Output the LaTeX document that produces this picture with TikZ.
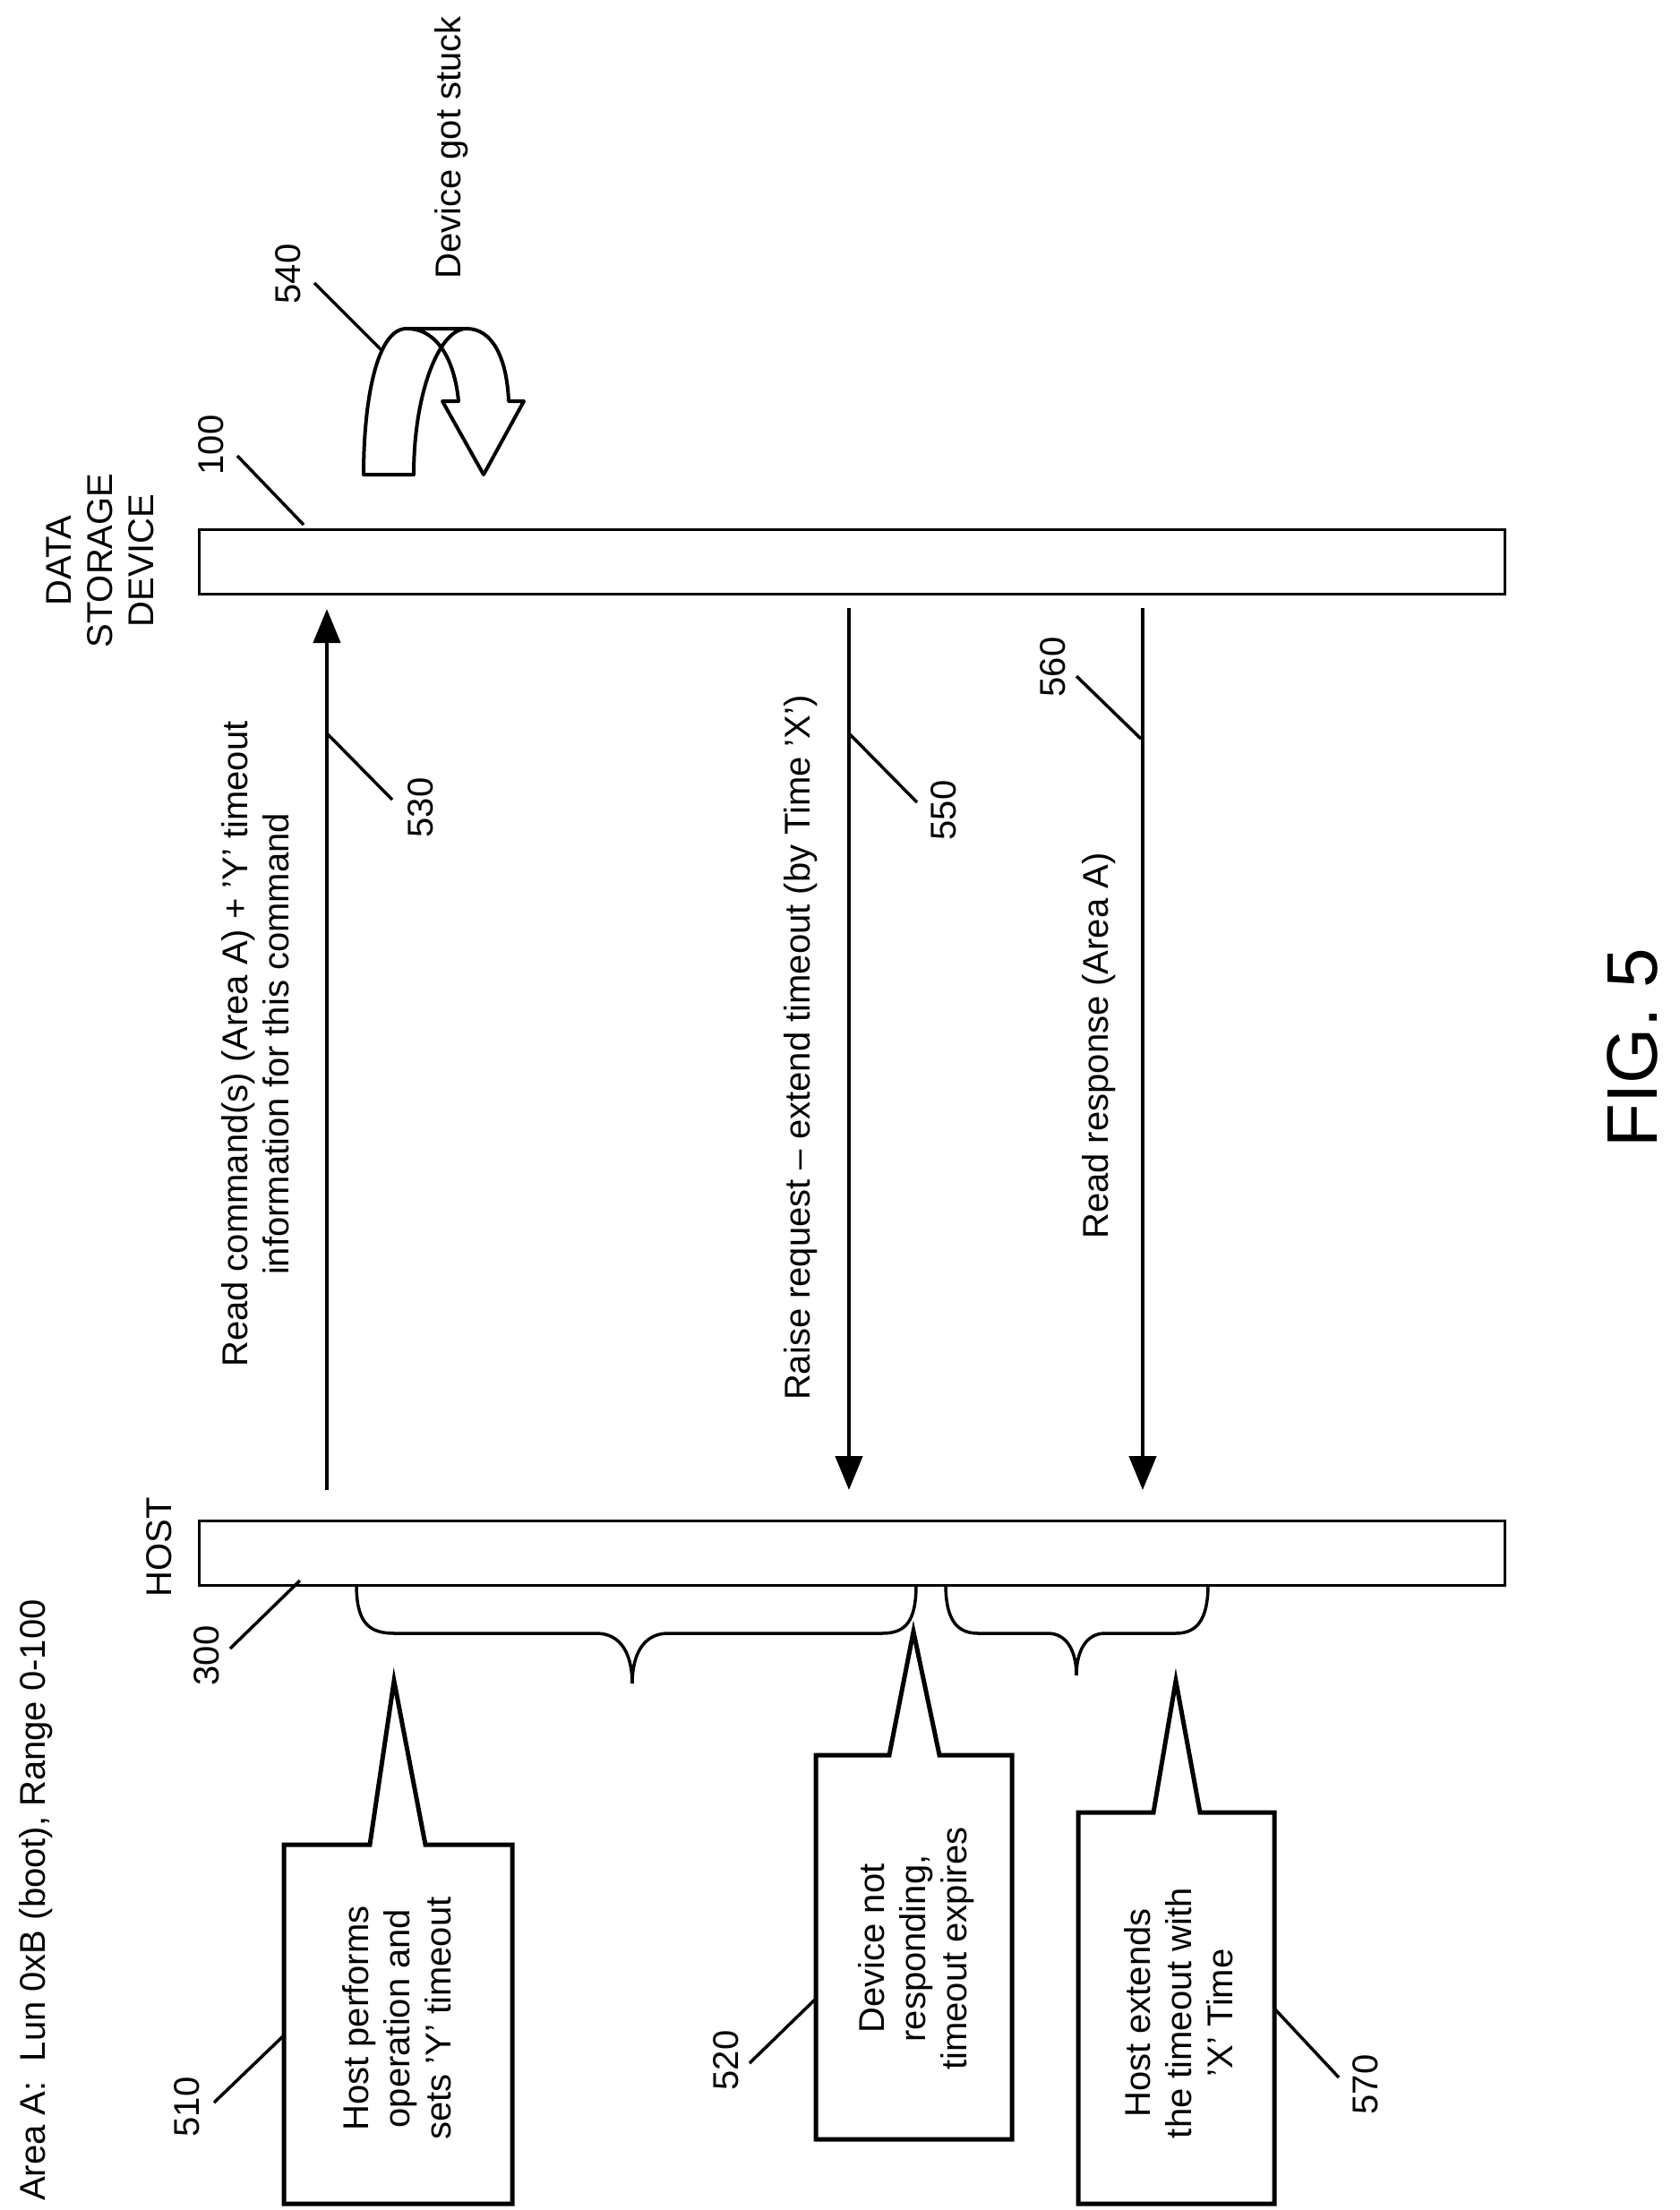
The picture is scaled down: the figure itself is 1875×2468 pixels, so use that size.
\documentclass[tikz,border=0pt]{standalone}
\usepackage{fontspec}
\setmainfont{Liberation Sans}
\usetikzlibrary{arrows.meta}
\begin{document}
\begin{tikzpicture}[x=1pt,y=-1pt,
  lbl/.style={rotate=90,font=\fontsize{40}{46}\selectfont,inner sep=0pt},
  boxtxt/.style={rotate=90,font=\fontsize{40}{46}\selectfont,align=center,inner sep=0pt},
  bar/.style={draw,line width=3pt,fill=white},
  msg/.style={line width=4.5pt,-{Triangle[length=38pt,width=30pt]}},
  lead/.style={line width=3.5pt},
  call/.style={draw,line width=5pt,fill=white,line join=miter}]
\useasboundingbox (0,0) rectangle (1875,2468);
% bars
\node[bar,minimum width=1458pt,minimum height=72pt,inner sep=0pt,anchor=north west] (dev) at (221,590) {};
\node[bar,minimum width=1458pt,minimum height=72pt,inner sep=0pt,anchor=north west] (host) at (221,1697) {};
\node[lbl,align=center] (devlbl) at (112,626) {DATA\\STORAGE\\DEVICE};
\node[lbl] (hostlbl) at (178,1728) {HOST};
% message arrows
\coordinate (a1s) at (365,1664); \coordinate (a1e) at (365,680);
\coordinate (a2s) at (948,679);  \coordinate (a2e) at (948,1664);
\coordinate (a3s) at (1276,679); \coordinate (a3e) at (1276,1664);
\draw[msg] (a1s) -- (a1e);
\draw[msg] (a2s) -- (a2e);
\draw[msg] (a3s) -- (a3e);
\node[lbl,align=center] (t530) at (285,1166) {Read command(s) (Area A) + ’Y’ timeout\\information for this command};
\node[lbl] (t550) at (894,1170) {Raise request – extend timeout (by Time ’X’)};
\node[lbl] (t560) at (1227,1168) {Read response (Area A)};
% leaders
\coordinate (l530a) at (365,819); \coordinate (l530b) at (438,893);
\draw[lead] (l530a) -- (l530b);
\node[lbl] (n530) at (470,902) {530};
\coordinate (l550a) at (948,819); \coordinate (l550b) at (1024,896);
\draw[lead] (l550a) -- (l550b);
\node[lbl] (n550) at (1054,905) {550};
\coordinate (l560a) at (1274,825); \coordinate (l560b) at (1202,755);
\draw[lead] (l560a) -- (l560b);
\node[lbl] (n560) at (1176,745) {560};
\coordinate (l100a) at (339,586); \coordinate (l100b) at (265,509);
\draw[lead] (l100a) -- (l100b);
\node[lbl] (n100) at (236,497) {100};
\coordinate (l540a) at (428,393); \coordinate (l540b) at (351,316);
\draw[lead] (l540a) -- (l540b);
\node[lbl] (n540) at (322,306) {540};
\coordinate (l300a) at (335,1765); \coordinate (l300b) at (257,1841);
\draw[lead] (l300a) -- (l300b);
\node[lbl] (n300) at (231,1849) {300};
% U-turn arrow
\draw[line width=4pt,fill=white,line join=round]
  (406,530) .. controls (406,450) and (420,367) .. (454,367) -- (521,367)
  .. controls (550,367) and (566,400) .. (568,448) -- (585,448) -- (540,530) -- (494,448) -- (512,448)
  .. controls (508,405) and (490,367) .. (454,367) -- (521,367)
  .. controls (490,367) and (462,440) .. (462,530) -- (406,530) -- cycle;
\node[lbl] (stuck) at (504,165) {Device got stuck};
% braces
\draw[line width=3.5pt] (398,1769) .. controls (398,1810) and (410,1824) .. (440,1824) -- (666,1824)
  .. controls (695,1824) and (706,1850) .. (706,1880)
  .. controls (706,1850) and (717,1824) .. (746,1824) -- (985,1824)
  .. controls (1012,1824) and (1023,1810) .. (1023,1769);
\draw[line width=3.5pt] (1056,1769) .. controls (1056,1805) and (1066,1824) .. (1092,1824) -- (1170,1824)
  .. controls (1192,1824) and (1202,1845) .. (1202,1871)
  .. controls (1202,1845) and (1212,1824) .. (1234,1824) -- (1313,1824)
  .. controls (1339,1824) and (1349,1805) .. (1349,1769);
% callouts
\draw[call] (317,2060) -- (413,2060) -- (440,1877) -- (475,2060) -- (572,2060) -- (572,2461) -- (317,2461) -- cycle;
\node[boxtxt] (b510) at (443,2254) {Host performs\\operation and\\sets ’Y’ timeout};
\draw[call] (911,1960) -- (993,1960) -- (1020,1822) -- (1049,1960) -- (1130,1960) -- (1130,2389) -- (911,2389) -- cycle;
\node[boxtxt] (b520) at (1023,2176) {Device not\\responding,\\timeout expires};
\draw[call] (1204,2024) -- (1288,2024) -- (1313,1877) -- (1340,2024) -- (1423,2024) -- (1423,2461) -- (1204,2461) -- cycle;
\node[boxtxt] (b570) at (1316,2248) {Host extends\\the timeout with\\’X’ Time};
\coordinate (l510a) at (317,2273); \coordinate (l510b) at (239,2348);
\draw[lead] (l510a) -- (l510b);
\node[lbl] (n510) at (209,2353) {510};
\coordinate (l520a) at (911,2232); \coordinate (l520b) at (837,2304);
\draw[lead] (l520a) -- (l520b);
\node[lbl] (n520) at (811,2301) {520};
\coordinate (l570a) at (1423,2243); \coordinate (l570b) at (1495,2320);
\draw[lead] (l570a) -- (l570b);
\node[lbl] (n570) at (1525,2328) {570};
\node[lbl] (areaA) at (40,2122) {Area A:\ \ Lun 0xB (boot), Range 0-100};
\node[rotate=90,font=\fontsize{80}{90}\selectfont,inner sep=0pt] (fig) at (1823,1170) {FIG. 5};
\end{tikzpicture}
\end{document}
